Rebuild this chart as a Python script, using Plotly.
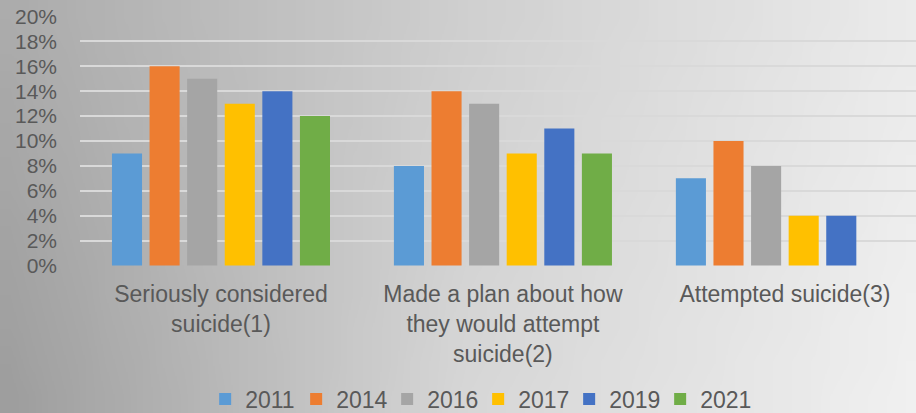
import base64, struct, zlib
import plotly.graph_objects as go

# ---- data ----
categories = ["Seriously considered<br>suicide(1)",
              "Made a plan about how<br>they would attempt<br>suicide(2)",
              "Attempted suicide(3)"]
years = ["2011", "2014", "2016", "2017", "2019", "2021"]
v2011 = [0.09, 0.08, 0.07]
v2014 = [0.16, 0.14, 0.10]
v2016 = [0.15, 0.13, 0.08]
v2017 = [0.13, 0.09, 0.04]
v2019 = [0.14, 0.11, 0.04]
v2021 = [0.12, 0.09, None]
series = [v2011, v2014, v2016, v2017, v2019, v2021]
colors = ["#5B9BD5", "#ED7D31", "#A5A5A5", "#FFC000", "#4472C4", "#70AD47"]

# ---- background gradient image (style only) ----
def gradient_png(w=48, h=12):
    top = [(0.0, 172), (0.5, 207), (1.0, 235)]
    bot = [(0.0, 158), (0.5, 214), (1.0, 240)]
    def interp(pts, t):
        for (a, va), (b, vb) in zip(pts, pts[1:]):
            if t <= b:
                return va + (vb - va) * (t - a) / (b - a)
        return pts[-1][1]
    raw = b""
    for j in range(h):
        s = j / (h - 1)
        row = bytearray([0])
        for i in range(w):
            t = i / (w - 1)
            v = interp(top, t) * (1 - s) + interp(bot, t) * s
            row.append(int(round(v)))
        raw += bytes(row)
    def chunk(tag, data):
        c = struct.pack(">I", len(data)) + tag + data
        return c + struct.pack(">I", zlib.crc32(tag + data) & 0xffffffff)
    png = b"\x89PNG\r\n\x1a\n"
    png += chunk(b"IHDR", struct.pack(">IIBBBBB", w, h, 8, 0, 0, 0, 0))
    png += chunk(b"IDAT", zlib.compress(raw))
    png += chunk(b"IEND", b"")
    return "data:image/png;base64," + base64.b64encode(png).decode()

fig = go.Figure()
for name, vals, col in zip(years, series, colors):
    fig.add_trace(go.Bar(name=name, x=categories, y=vals, marker_color=col,
                         marker_line_width=0))

W, H = 916, 413
fig.update_layout(
    width=W, height=H,
    margin=dict(l=0, r=0, t=0, b=0, pad=0, autoexpand=False),
    paper_bgcolor="rgba(0,0,0,0)",
    plot_bgcolor="rgba(0,0,0,0)",
    images=[dict(source=gradient_png(), xref="paper", yref="paper", x=0, y=1,
                 sizex=1, sizey=1, xanchor="left", yanchor="top",
                 sizing="stretch", layer="below")],
    barmode="group", bargap=0.2, bargroupgap=0.2,
    font=dict(family="Liberation Sans, Arial, sans-serif", color="#595959", size=23),
    xaxis=dict(domain=[80 / W, 1], type="category", range=[-0.5, 2.465],
               showgrid=False, showline=False, zeroline=False, automargin=False,
               tickfont=dict(size=23, color="#595959"),
               ticks="", ticklabelstandoff=12),
    yaxis=dict(domain=[1 - 266 / H, 1 - 16 / H], range=[-0.0004, 0.2004],
               tickvals=[0, 0.02, 0.04, 0.06, 0.08, 0.10, 0.12, 0.14, 0.16, 0.18, 0.20],
               tickformat=".0%", showgrid=True, gridcolor="#D9D9D9", gridwidth=1.5,
               zeroline=False, showline=False, automargin=False,
               tickfont=dict(size=21, color="#595959"), ticks="",
               ticklabelstandoff=22),
    legend=dict(orientation="h", x=0.522, xanchor="center", y=0.086, yanchor="top",
                font=dict(size=23, color="#595959"), itemwidth=30,
                entrywidth=46, entrywidthmode="pixels",
                bgcolor="rgba(0,0,0,0)", traceorder="normal"),
    showlegend=True,
)
fig.write_html("out.html", config={"displayModeBar": False},
               post_script="document.body.style.margin='0';document.body.style.padding='0';document.body.style.overflow='hidden';")
